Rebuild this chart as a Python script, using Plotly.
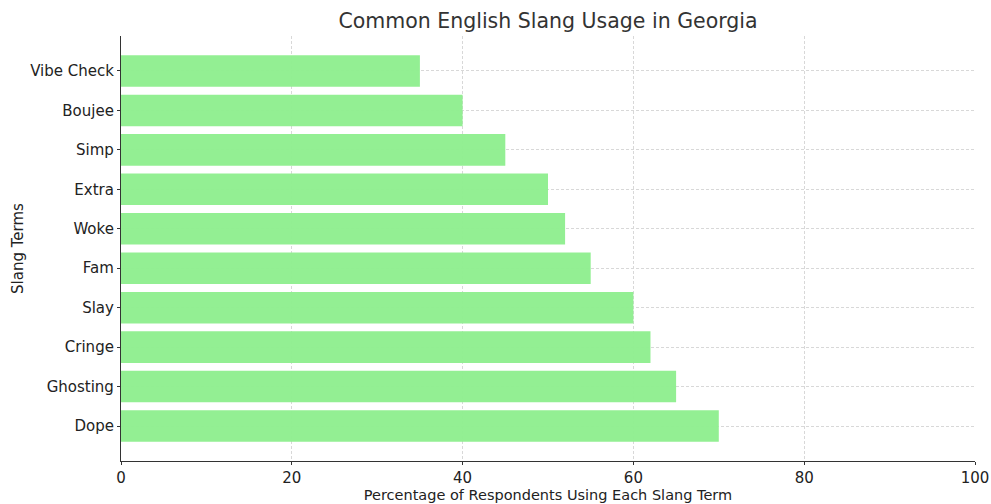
import plotly.graph_objects as go

terms = ["Dope", "Ghosting", "Cringe", "Slay", "Fam", "Woke", "Extra", "Simp", "Boujee", "Vibe Check"]
percentages = [70, 65, 62, 60, 55, 52, 50, 45, 40, 35]
x_ticks = [0, 20, 40, 60, 80, 100]

font = "DejaVu Sans"
fig = go.Figure(go.Bar(
    x=percentages, y=terms, orientation="h",
    marker=dict(color="rgba(144,238,144,0.97)", line=dict(width=0)),
    width=0.8,
))
fig.update_layout(
    width=991, height=504,
    margin=dict(l=121, r=16, t=36, b=43, autoexpand=False),
    paper_bgcolor="white", plot_bgcolor="white",
    font=dict(family=font, size=15, color="#222222"),
    title=dict(text="Common English Slang Usage in Georgia", x=0.5, xanchor="center", xref="paper",
               y=1 - 21/504, yanchor="middle", font=dict(size=20.5, color="#333333")),
    showlegend=False,
    bargap=0.2,
)
fig.update_xaxes(
    range=[0, 100], tickvals=x_ticks, ticktext=[str(v) for v in x_ticks],
    showgrid=True, gridcolor="#d8d8d8", griddash="3px,2px", gridwidth=0.7,
    showline=True, linecolor="#333333", linewidth=1.2,
    ticks="outside", ticklen=3, tickcolor="#333333",
    zeroline=False, automargin=True,
    title=dict(text="Percentage of Respondents Using Each Slang Term", standoff=0,
               font=dict(size=14.5)),
)
fig.update_yaxes(
    range=[-0.887, 9.887], categoryorder="array", categoryarray=terms,
    showgrid=True, gridcolor="#d8d8d8", griddash="3px,2px", gridwidth=0.7,
    showline=True, linecolor="#333333", linewidth=1.2,
    ticks="outside", ticklen=3, tickcolor="#333333", automargin=True,
    title=dict(text="Slang Terms", standoff=2, font=dict(size=15)),
)
fig.write_html("out.html")
